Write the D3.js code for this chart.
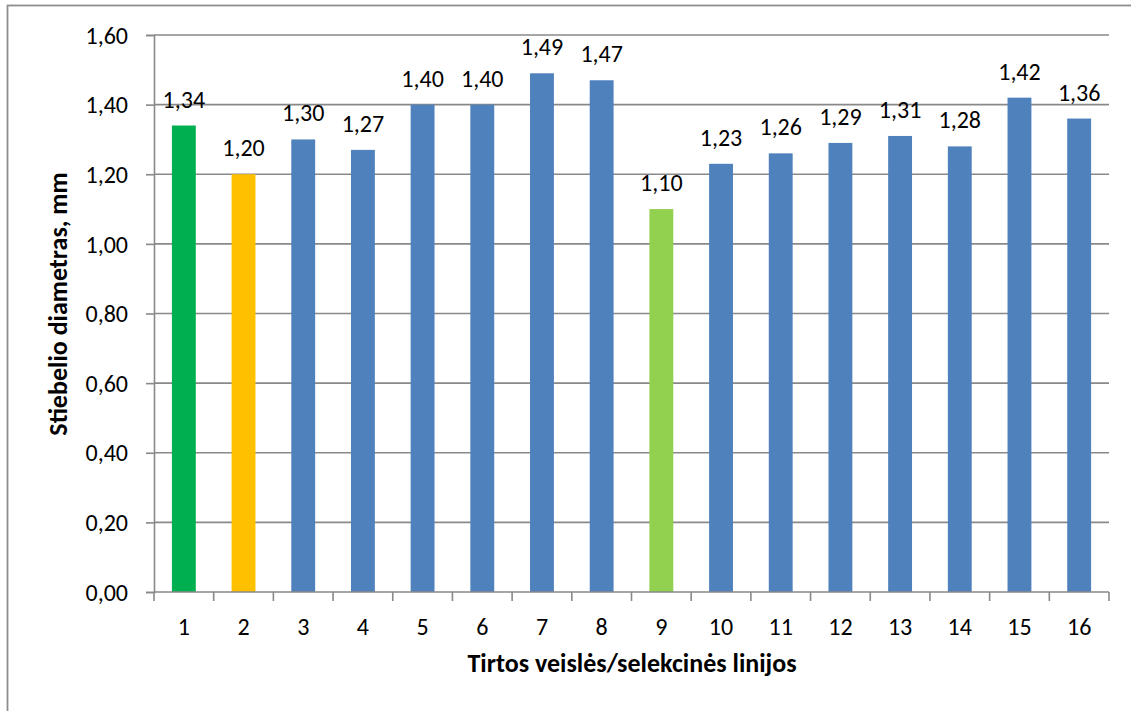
<!DOCTYPE html>
<html>
<head>
<meta charset="utf-8">
<script src="https://cdn.jsdelivr.net/npm/d3@7"></script>
<style>
  html, body { margin: 0; padding: 0; background: #fff; }
  svg { display: block; }
  text { font-family: Carlito, Calibri, Lato, "Open Sans", sans-serif; fill: #000; }
</style>
</head>
<body>
<svg id="chart" width="1131" height="711"></svg>
<script>
// Stem diameter per tested variety / breeding line
const categories = ["1","2","3","4","5","6","7","8","9","10","11","12","13","14","15","16"];
const diameters = [1.34, 1.20, 1.30, 1.27, 1.40, 1.40, 1.49, 1.47, 1.10, 1.23, 1.26, 1.29, 1.31, 1.28, 1.42, 1.36];
const barColors = ["#00B050", "#FFC000", "#4F81BD", "#4F81BD", "#4F81BD", "#4F81BD", "#4F81BD", "#4F81BD",
                   "#92D050", "#4F81BD", "#4F81BD", "#4F81BD", "#4F81BD", "#4F81BD", "#4F81BD", "#4F81BD"];
const yTicks = [0, 0.2, 0.4, 0.6, 0.8, 1.0, 1.2, 1.4, 1.6];
const yTitle = "Stiebelio diametras, mm";
const xTitle = "Tirtos veislės/selekcinės linijos";

const svg = d3.select("#chart");
const plot = { left: 154, right: 1109, top: 35, bottom: 592 };
const gridColor = "#898989";
const labelSize = 24;
const titleSize = 26;
const fmt = v => d3.format(".2f")(v).replace(".", ",");

// chart border
svg.append("rect")
  .attr("x", 7.5).attr("y", 5.5)
  .attr("width", 1200).attr("height", 800)
  .attr("fill", "none").attr("stroke", "#8e8e8e").attr("stroke-width", 1.8);

const x = d3.scaleBand()
  .domain(categories)
  .range([plot.left, plot.right])
  .paddingInner(0.6)
  .paddingOuter(0.3);

const y = d3.scaleLinear()
  .domain([0, 1.6])
  .range([plot.bottom, plot.top]);

// horizontal gridlines
svg.append("g")
  .selectAll("line")
  .data(yTicks.filter(d => d > 0))
  .join("line")
  .attr("x1", plot.left).attr("x2", plot.right)
  .attr("y1", d => y(d)).attr("y2", d => y(d))
  .attr("stroke", gridColor).attr("stroke-width", 1.6);

// y axis
const yAxis = svg.append("g")
  .attr("transform", `translate(${plot.left},0)`)
  .call(d3.axisLeft(y).tickValues(yTicks).tickFormat(fmt).tickSize(8).tickPadding(18));
yAxis.select(".domain").attr("stroke", gridColor).attr("stroke-width", 1.6);
yAxis.selectAll(".tick line").attr("stroke", gridColor).attr("stroke-width", 1.6);
yAxis.selectAll(".tick text")
  .attr("font-size", labelSize).attr("dy", "0.34em")
  .style("font-family", "Carlito, Calibri, Lato, sans-serif").attr("fill", "#000");

// bars
svg.append("g")
  .selectAll("rect")
  .data(diameters)
  .join("rect")
  .attr("x", (d, i) => x(categories[i]))
  .attr("y", d => y(d))
  .attr("width", x.bandwidth())
  .attr("height", d => y(0) - y(d))
  .attr("fill", (d, i) => barColors[i]);

// value labels
svg.append("g")
  .selectAll("text")
  .data(diameters)
  .join("text")
  .attr("x", (d, i) => x(categories[i]) + x.bandwidth() / 2)
  .attr("y", d => y(d) - 18)
  .attr("text-anchor", "middle")
  .attr("font-size", labelSize)
  .text(d => fmt(d));

// x axis with ticks on category boundaries
const xg = svg.append("g");
xg.append("line")
  .attr("x1", plot.left).attr("x2", plot.right)
  .attr("y1", plot.bottom).attr("y2", plot.bottom)
  .attr("stroke", gridColor).attr("stroke-width", 1.6);
const boundaries = d3.range(categories.length + 1).map(i => plot.left + i * x.step());
xg.selectAll("line.tick")
  .data(boundaries)
  .join("line")
  .attr("class", "tick")
  .attr("x1", d => d).attr("x2", d => d)
  .attr("y1", plot.bottom).attr("y2", plot.bottom + 9)
  .attr("stroke", gridColor).attr("stroke-width", 1.6);
xg.selectAll("text")
  .data(categories)
  .join("text")
  .attr("x", d => x(d) + x.bandwidth() / 2)
  .attr("y", 635)
  .attr("text-anchor", "middle")
  .attr("font-size", labelSize)
  .text(d => d);

// axis titles
svg.append("text")
  .attr("x", 632).attr("y", 672)
  .attr("text-anchor", "middle")
  .attr("font-size", titleSize).attr("font-weight", "bold")
  .text(xTitle);

svg.append("text")
  .attr("transform", `translate(67,304) rotate(-90)`)
  .attr("text-anchor", "middle")
  .attr("font-size", titleSize).attr("font-weight", "bold")
  .text(yTitle);
</script>
</body>
</html>
